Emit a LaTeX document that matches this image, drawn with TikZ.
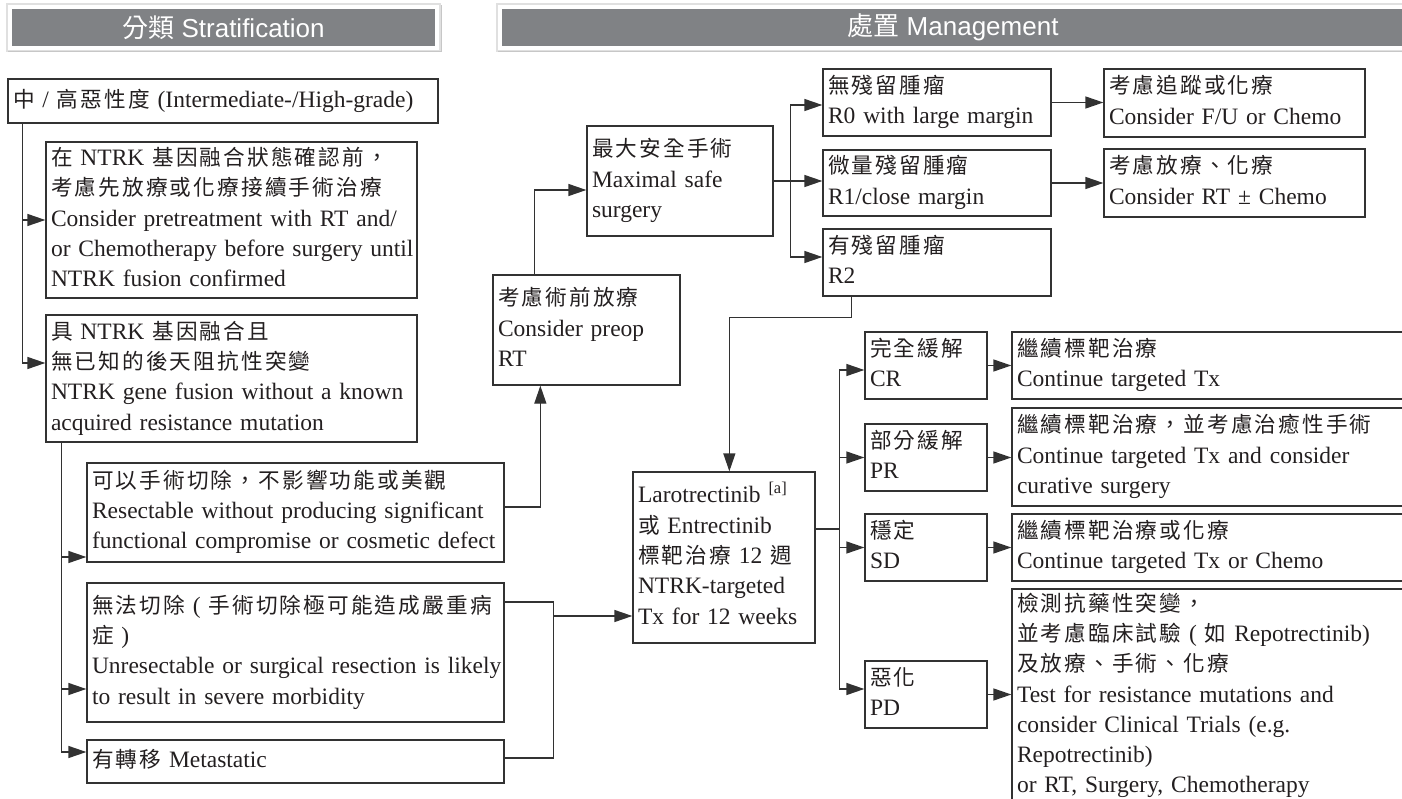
\documentclass[tikz,border=0pt]{standalone}
\usepackage{fontspec}
\setmainfont{Liberation Serif}
\newfontfamily\hdrfont{Liberation Sans}
\newfontfamily\zh[Scale=0.92,LetterSpace=10]{Noto Sans CJK TC}
\newfontfamily\zhh{Noto Sans CJK TC}
\usetikzlibrary{arrows.meta,calc}
\definecolor{hdrgray}{RGB}{128,130,133}
\definecolor{ink}{RGB}{35,31,32}
\definecolor{edge}{RGB}{50,50,50}
\newcommand\lns[1]{\begin{tabular}{@{}l@{}}#1\end{tabular}}
\newcommand\bx[6]{%
  \pgfmathsetmacro\bxw{#4-#2}\pgfmathsetmacro\bxh{#5-#3}\pgfmathsetmacro\bxt{#4-#2-10}%
  \node[box,minimum width=\bxw pt,minimum height=\bxh pt,text width=\bxt pt] (#1) at ({(#2+#4)/2},{(#3+#5)/2}) {\lns{#6}};}
\tikzset{
  box/.style={draw=edge,line width=1.3pt,inner xsep=5pt,inner ysep=0pt,align=left,text=ink,
    font=\fontsize{23.5}{30.3}\selectfont},
  hdr/.style={fill=hdrgray,draw=white,line width=3.5pt,text=white,inner sep=0pt,
    font=\hdrfont\fontsize{26}{30}\selectfont},
  arr/.style={draw=edge,line width=1.3pt,-{Triangle[length=18pt,width=12pt]}},
  ln/.style={draw=edge,line width=1.3pt}
}
\begin{document}
\begin{tikzpicture}[x=1pt,y=-1pt]
\useasboundingbox (0,0) rectangle (1402,799);
% headers
\draw[black!12,line width=1.5pt] (7,4) rectangle (440,51);
\draw[black!22,line width=1pt] (8,52) -- (441,52) -- (441,5);
\node[hdr,minimum width=427pt,minimum height=40pt] (hL) at (223.5,27.5) {{\zhh 分類} Stratification};
\draw[black!12,line width=1.5pt] (497,4) rectangle (1410,51);
\draw[black!22,line width=1pt] (498,52) -- (1410,52);
\node[hdr,minimum width=906pt,minimum height=40pt] (hR) at (953,27.5) {{\zhh 處置} Management};
% left column
\bx{A}{8}{79}{438}{123}{{\zh 中} / {\zh 高惡性度} (Intermediate-/High-grade)}
\bx{B}{46}{142}{417}{298}{{\zh 在} NTRK {\zh 基因融合狀態確認前，}\\{\zh 考慮先放療或化療接續手術治療}\\Consider pretreatment with RT and/\\or Chemotherapy before surgery until\\NTRK fusion confirmed}
\bx{C}{46}{315}{417}{442}{{\zh 具} NTRK {\zh 基因融合且}\\{\zh 無已知的後天阻抗性突變}\\NTRK gene fusion without a known\\acquired resistance mutation}
\bx{D}{87}{463}{504}{562}{{\zh 可以手術切除，不影響功能或美觀}\\Resectable without producing significant\\functional compromise or cosmetic defect}
\bx{E}{87}{583}{504}{722}{{\zh 無法切除} ( {\zh 手術切除極可能造成嚴重病}\\{\zh 症} )\\Unresectable or surgical resection is likely\\to result in severe morbidity}
\bx{F}{87}{740}{504}{783}{{\zh 有轉移} Metastatic}
% middle
\bx{G}{493}{275}{680}{385}{{\zh 考慮術前放療}\\Consider preop\\RT}
\bx{H}{587}{126}{773}{236}{{\zh 最大安全手術}\\Maximal safe\\surgery}
\bx{I}{823}{69}{1051}{136}{{\zh 無殘留腫瘤}\\R0 with large margin}
\bx{J}{823}{150}{1051}{216}{{\zh 微量殘留腫瘤}\\R1/close margin}
\bx{K}{823}{229}{1051}{296}{{\zh 有殘留腫瘤}\\R2}
\bx{Ip}{1104}{69}{1365}{137}{{\zh 考慮追蹤或化療}\\Consider F/U or Chemo}
\bx{Jp}{1104}{149}{1365}{217}{{\zh 考慮放療、化療}\\Consider RT ± Chemo}
\bx{L}{633}{472}{815}{643}{Larotrectinib \textsuperscript{[a]}\\{\zh 或} Entrectinib\\{\zh 標靶治療} 12 {\zh 週}\\NTRK-targeted\\Tx for 12 weeks}
% responses
\bx{CR}{865}{332}{987}{399}{{\zh 完全緩解}\\CR}
\bx{PR}{865}{424}{987}{491}{{\zh 部分緩解}\\PR}
\bx{SD}{865}{514}{987}{581}{{\zh 穩定}\\SD}
\bx{PD}{865}{661}{987}{728}{{\zh 惡化}\\PD}
\bx{CRp}{1012}{332}{1406}{399}{{\zh 繼續標靶治療}\\Continue targeted Tx}
\bx{PRp}{1012}{408}{1406}{506}{{\zh 繼續標靶治療，並考慮治癒性手術}\\Continue targeted Tx and consider\\curative surgery}
\bx{SDp}{1012}{514}{1406}{581}{{\zh 繼續標靶治療或化療}\\Continue targeted Tx or Chemo}
\bx{PDp}{1012}{589}{1406}{803}{{\zh 檢測抗藥性突變，}\\{\zh 並考慮臨床試驗} ( {\zh 如} Repotrectinib)\\{\zh 及放療、手術、化療}\\Test for resistance mutations and\\consider Clinical Trials (e.g.\\Repotrectinib)\\or RT, Surgery, Chemotherapy}
% connectors
\draw[arr] ([xshift=15pt]A.south west) |- (B.west);
\draw[arr] ([xshift=15pt]A.south west) |- ([yshift=15.5pt]C.west);
\draw[arr] ([xshift=16pt]C.south west) |- ([yshift=-44.5pt]D.west);
\draw[arr] ([xshift=16pt]C.south west) |- ([yshift=-36.5pt]E.west);
\draw[arr] ([xshift=16pt]C.south west) |- ([yshift=9.5pt]F.west);
\draw[arr] ([yshift=5.5pt]D.east) -| ([xshift=48pt]G.south west);
\draw[arr] ([xshift=42pt]G.north west) |- ([yshift=-9pt]H.west);
\draw[ln] (H.east) -- ++(17,0) coordinate (hb);
\draw[arr] (hb) |- ([yshift=-2.5pt]I.west);
\draw[arr] (hb) -- (hb -| J.west);
\draw[arr] (hb) |- ([yshift=5.5pt]K.west);
\draw[arr] (I.east) -- (I.east -| Ip.west);
\draw[arr] (J.east) -- (J.east -| Jp.west);
\draw[arr] ([xshift=29pt]K.south west) -- ++(0,21) -| ([xshift=97pt]L.north west);
\draw[ln] ([yshift=50.5pt]E.east) -- ++(49,0) coordinate (ej) |- ([yshift=3.5pt]F.east);
\coordinate (lin) at ([yshift=-58.5pt]L.west);
\draw[arr] (lin -| ej) -- (lin);
\draw[ln] ([yshift=28.5pt]L.east) -- ++(24,0) coordinate (lb);
\draw[arr] (lb) |- ([yshift=-4.5pt]CR.west);
\draw[arr] (lb) |- (PR.west);
\draw[arr] (lb) |- (SD.west);
\draw[arr] (lb) |- ([yshift=5.5pt]PD.west);
\draw[arr] (CR.east) -- (CR.east -| CRp.west);
\draw[arr] (PR.east) -- (PR.east -| PRp.west);
\draw[arr] (SD.east) -- (SD.east -| SDp.west);
\draw[arr] (PD.east) -- (PD.east -| PDp.west);
\end{tikzpicture}
\end{document}
